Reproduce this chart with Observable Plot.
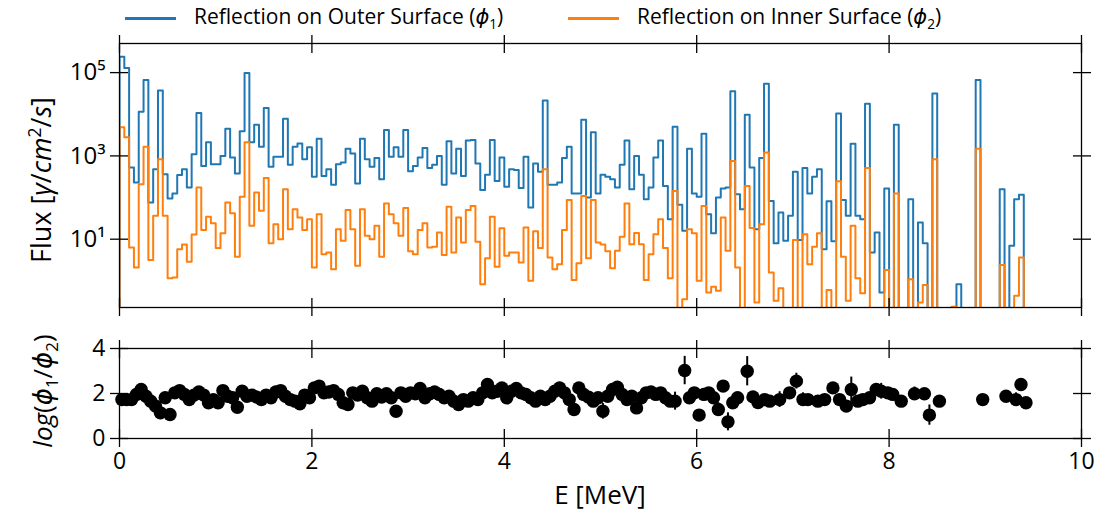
<!DOCTYPE html>
<html><head><meta charset="utf-8">
<script src="https://cdn.jsdelivr.net/npm/d3@7"></script>
<script src="https://cdn.jsdelivr.net/npm/@observablehq/plot@0.6"></script>
<style>
body{margin:0;background:#fff;}
#wrap{position:relative;width:1118px;height:515px;overflow:hidden;font-family:"Open Sans","DejaVu Sans",sans-serif;color:#000;}
#wrap svg{position:absolute;left:0;}
.lbl{position:absolute;white-space:nowrap;line-height:1;}
.lbl sup,.lbl sub{font-size:0.65em;line-height:0;}
.leg{position:absolute;font-size:21px;white-space:nowrap;line-height:1;}
.sw{position:absolute;height:3px;}
</style></head><body><div id="wrap"></div>
<script>
// ---------- data ----------
const binWidth = 0.05; // MeV
// log10 of flux per bin (null = empty bin)
const outerLog = [5.38,5.11,2.72,2.36,4.06,4.82,1.88,2.68,4.57,2.56,1.98,2.10,2.54,2.68,2.24,3.04,4.03,2.76,3.33,2.80,
2.80,3.00,3.65,2.96,2.58,3.59,4.99,3.33,3.75,3.22,4.15,2.74,2.98,2.98,3.89,2.79,3.22,3.30,2.92,3.21,
2.50,3.41,2.52,2.68,2.31,2.80,2.84,3.17,3.06,2.34,3.41,2.92,2.74,2.95,2.44,3.62,2.98,3.21,2.98,3.62,
2.63,2.76,2.96,3.19,2.71,2.79,3.00,2.31,3.35,2.58,3.17,2.52,3.37,3.38,2.82,2.18,2.55,3.38,2.40,2.96,
2.26,2.68,2.66,2.23,2.98,1.76,2.82,2.62,4.33,2.31,2.31,2.36,2.95,3.22,2.10,2.10,3.87,2.00,3.57,2.10,
2.55,2.50,2.44,2.24,2.79,3.37,2.20,3.00,2.55,1.96,2.24,2.96,3.37,2.28,1.48,3.70,1.83,1.20,3.17,2.10,
2.02,3.53,1.60,1.14,2.00,2.22,2.24,4.55,2.08,1.72,3.99,2.72,1.24,2.95,4.73,1.92,0.90,1.64,0.96,1.56,
2.62,0.98,2.71,2.10,2.50,2.68,0.76,1.91,0.95,4.02,1.94,1.56,3.29,1.56,1.48,4.25,0.68,1.16,-0.28,2.22,
null,3.75,null,null,1.96,null,1.40,0.90,null,4.50,null,null,null,null,-0.08,null,null,null,4.82,null,
null,null,null,2.20,null,0.84,1.96,2.07];
const innerLog = [3.69,3.45,0.80,0.32,2.32,3.22,0.50,1.56,2.92,1.56,0.06,0.08,0.76,0.87,0.46,1.11,2.24,1.22,1.54,1.38,
0.79,1.14,1.88,1.62,0.58,2.02,3.33,1.32,2.12,1.68,2.47,0.90,1.36,1.00,2.20,1.24,1.72,1.52,1.22,1.48,
0.32,1.60,0.64,0.68,0.28,1.24,0.96,1.70,1.24,0.36,1.72,1.08,1.00,1.32,0.58,1.86,1.60,1.38,1.08,1.75,
0.71,0.64,1.22,1.38,0.80,0.82,1.16,0.62,1.78,0.68,1.52,0.92,1.70,1.80,0.94,-0.08,0.54,1.54,0.34,1.26,
0.60,0.68,0.68,0.44,1.28,0.00,1.19,0.79,2.68,0.56,0.28,0.40,1.22,1.94,0.02,0.42,2.04,0.54,1.94,0.92,
0.87,0.71,0.30,0.72,1.06,1.86,0.88,1.15,0.88,0.02,0.64,1.12,1.48,0.79,0.06,2.16,null,-0.44,1.24,1.14,
0.00,1.80,-0.28,-0.14,-0.24,1.52,0.72,2.88,0.32,null,2.28,1.27,-0.52,1.36,3.08,0.20,-0.48,-0.18,null,null,
0.98,null,1.12,0.40,0.82,1.14,null,-0.22,null,2.39,0.58,-0.48,1.32,0.06,-0.30,2.71,null,null,null,0.26,
null,2.10,null,null,0.04,null,-0.52,-0.10,null,2.92,null,null,null,-0.62,null,null,null,null,3.17,null,
null,null,null,0.38,null,null,-0.36,0.56];

// ratio panel: energy (MeV), log(phi1/phi2), error
const ratioE = [0.025,0.075,0.125,0.175,0.225,0.275,0.325,0.375,0.425,0.475,0.525,0.575,0.625,0.675,0.725,0.775,0.825,0.875,0.925,0.975,
1.025,1.075,1.125,1.175,1.225,1.275,1.325,1.375,1.425,1.475,1.525,1.575,1.625,1.675,1.725,1.775,1.825,1.875,1.925,1.975,
2.025,2.075,2.125,2.175,2.225,2.275,2.325,2.375,2.425,2.475,2.525,2.575,2.625,2.675,2.725,2.775,2.825,2.875,2.925,2.975,
3.025,3.075,3.125,3.175,3.225,3.275,3.325,3.375,3.425,3.475,3.525,3.575,3.625,3.675,3.725,3.775,3.825,3.875,3.925,3.975,
4.025,4.075,4.125,4.175,4.225,4.275,4.325,4.375,4.425,4.475,4.525,4.575,4.625,4.675,4.725,4.775,4.825,4.875,4.925,4.975,
5.025,5.075,5.125,5.175,5.225,5.275,5.325,5.375,5.425,5.475,5.525,5.575,5.625,5.675,5.725,5.775,5.875,5.925,5.975,
6.025,6.075,6.125,6.175,6.225,6.275,6.325,6.375,6.425,6.525,
6.585,6.637,6.707,6.759,6.862,6.966,7.036,7.105,7.156,7.260,7.330,7.416,7.485,7.555,7.607,7.675,7.727,7.797,7.866,7.918,
7.987,8.038,8.126,8.264,8.367,8.419,8.523,8.973,9.215,9.319,9.371,9.423];
const ratioV = [1.73,1.73,1.73,1.96,2.18,1.88,1.66,1.44,1.14,1.81,1.07,2.03,2.13,1.96,1.73,1.93,2.07,1.93,1.59,1.73,
1.59,2.13,1.88,1.81,1.39,2.10,1.88,1.93,1.84,1.73,1.93,1.81,2.07,2.13,1.88,1.73,1.66,1.54,1.93,1.81,
2.25,2.33,2.03,2.07,2.13,1.96,1.59,1.51,2.03,1.93,2.10,1.81,1.66,1.99,1.84,1.99,1.81,1.21,2.03,1.88,
2.03,1.99,2.22,1.81,1.99,2.07,1.96,1.81,1.88,1.66,1.51,1.73,1.66,1.81,1.73,2.03,2.40,2.03,2.10,2.25,
1.81,2.10,2.22,2.03,1.96,1.81,1.66,1.88,1.73,1.88,2.10,2.25,2.03,1.73,1.29,2.25,1.96,1.84,1.66,1.81,
1.21,1.88,2.18,2.28,1.96,1.73,1.88,1.36,1.81,2.03,2.07,1.96,2.03,1.81,1.66,1.66,3.02,1.81,2.03,
1.04,1.96,2.03,1.81,1.29,2.33,0.74,1.59,1.81,2.99,
1.85,1.60,1.73,1.66,1.73,2.03,2.55,1.73,1.73,1.66,1.73,2.25,1.73,1.44,2.18,1.66,1.73,1.81,2.18,2.10,
2.03,1.96,1.66,1.99,1.99,1.04,1.66,1.73,1.88,1.73,2.40,1.59];
const ratioErr = [0.12,0.12,0.12,0.12,0.12,0.12,0.12,0.15,0.30,0.12,0.25,0.12,0.12,0.12,0.12,0.12,0.12,0.12,0.12,0.12,
0.12,0.12,0.12,0.12,0.25,0.12,0.12,0.12,0.12,0.12,0.12,0.12,0.12,0.12,0.12,0.12,0.12,0.12,0.12,0.12,
0.12,0.12,0.12,0.12,0.12,0.12,0.12,0.12,0.12,0.12,0.12,0.12,0.12,0.12,0.12,0.12,0.12,0.25,0.12,0.12,
0.12,0.12,0.12,0.12,0.12,0.12,0.12,0.12,0.12,0.12,0.12,0.12,0.12,0.12,0.12,0.12,0.15,0.12,0.12,0.12,
0.12,0.12,0.12,0.12,0.12,0.12,0.12,0.12,0.12,0.12,0.12,0.12,0.12,0.12,0.25,0.12,0.12,0.12,0.12,0.12,
0.35,0.12,0.12,0.12,0.12,0.12,0.12,0.15,0.12,0.12,0.12,0.12,0.12,0.12,0.12,0.40,0.63,0.12,0.12,
0.15,0.12,0.12,0.12,0.30,0.12,0.40,0.12,0.12,0.65,
0.12,0.12,0.12,0.12,0.35,0.12,0.35,0.30,0.12,0.12,0.12,0.12,0.12,0.12,0.55,0.12,0.12,0.12,0.12,0.35,
0.12,0.12,0.12,0.30,0.12,0.45,0.12,0.12,0.12,0.30,0.15,0.12];

const xTicks = [0,2,4,6,8,10];
const yTicksTop = [10,1000,100000];
const yTickLabelsTop = ["10¹","10³","10⁵"];
const yTicksBottom = [0,2,4];
const seriesNames = ["Reflection on Outer Surface","Reflection on Inner Surface"];
const colors = ["#1f77b4","#ff7f0e"];

// ---------- build ----------
const FLOOR = 1e-3;
function steps(logs){
  const pts = [{x:0,y:FLOOR}];
  logs.forEach((v,i)=>pts.push({x:i*binWidth, y: v==null?FLOOR:Math.pow(10,v)}));
  pts.push({x:logs.length*binWidth, y:FLOOR});
  return pts;
}
const outerPts = steps(outerLog), innerPts = steps(innerLog);
const ratio = ratioE.map((e,i)=>({e, v:ratioV[i], lo:ratioV[i]-ratioErr[i], hi:ratioV[i]+ratioErr[i]}));
const topLabel = new Map(yTicksTop.map((t,i)=>[t,yTickLabelsTop[i]]));

const font = '"Open Sans","DejaVu Sans",sans-serif';
const W=1118, ML=119, MR=37;
const TS=18, H=9;

const topPlot = Plot.plot({
  width:W, height:320, marginLeft:ML, marginRight:MR, marginTop:43, marginBottom:13,
  style:{fontFamily:font, background:"transparent", overflow:"visible"},
  x:{domain:[0,10]},
  y:{type:"log", domain:[0.229, 5.0e5]},
  marks:[
    Plot.line(outerPts,{x:"x",y:"y",curve:"step-after",stroke:colors[0],strokeWidth:2,clip:true}),
    Plot.line(innerPts,{x:"x",y:"y",curve:"step-after",stroke:colors[1],strokeWidth:2,clip:true}),
    Plot.frame({stroke:"black",strokeWidth:1.3}),
    Plot.axisX(xTicks,{anchor:"top",tickSize:TS,dy:H,tickFormat:()=>"",label:null,strokeWidth:1.3}),
    Plot.axisX(xTicks,{anchor:"bottom",tickSize:TS,dy:-H,tickFormat:()=>"",label:null,strokeWidth:1.3}),
    Plot.axisY(yTicksTop,{anchor:"left",tickSize:TS,dx:H,tickPadding:5,tickFormat:d=>topLabel.get(d),label:null,fontSize:24,strokeWidth:1.3}),
    Plot.axisY(yTicksTop,{anchor:"right",tickSize:TS,dx:-H,tickFormat:()=>"",label:null,strokeWidth:1.3})
  ]
});
topPlot.style.top="0px";

const botPlot = Plot.plot({
  width:W, height:195, marginLeft:ML, marginRight:MR, marginTop:28, marginBottom:77,
  style:{fontFamily:font, background:"transparent", overflow:"visible"},
  x:{domain:[0,10]},
  y:{domain:[0,4]},
  marks:[
    Plot.ruleX(ratio,{x:"e",y1:"lo",y2:"hi",stroke:"black",strokeWidth:2}),
    Plot.dot(ratio,{x:"e",y:"v",r:6.7,fill:"black",stroke:"none"}),
    Plot.frame({stroke:"black",strokeWidth:1.3}),
    Plot.axisX(xTicks,{anchor:"bottom",tickSize:TS,dy:-H,tickPadding:5,label:null,fontSize:23,strokeWidth:1.3}),
    Plot.axisX(xTicks,{anchor:"top",tickSize:TS,dy:H,tickFormat:()=>"",label:null,strokeWidth:1.3}),
    Plot.axisY(yTicksBottom,{anchor:"left",tickSize:TS,dx:H,tickPadding:5,label:null,fontSize:23,strokeWidth:1.3}),
    Plot.axisY(yTicksBottom,{anchor:"right",tickSize:TS,dx:-H,tickFormat:()=>"",label:null,strokeWidth:1.3})
  ]
});
botPlot.style.top="320px";

const wrap = document.getElementById("wrap");
wrap.appendChild(topPlot);
wrap.appendChild(botPlot);

// legend
function legend(i, swX, txtX, sub){
  const sw=document.createElement("div"); sw.className="sw";
  sw.style.cssText=`left:${swX}px;top:17px;width:51px;background:${colors[i]}`;
  wrap.appendChild(sw);
  const t=document.createElement("div"); t.className="leg";
  t.style.cssText=`left:${txtX}px;top:6px`;
  t.innerHTML=`${seriesNames[i]} (<i>ϕ</i><sub style="font-size:0.65em">${sub}</sub>)`;
  wrap.appendChild(t);
}
legend(0,125,194,1);
legend(1,568,637,2);

// axis titles
function addLabel(html, x, y, size, rot){
  const d=document.createElement("div"); d.className="lbl";
  d.style.cssText=`left:${x}px;top:${y}px;font-size:${size}px;transform:translate(-50%,-50%)${rot?" rotate(-90deg)":""}`;
  d.innerHTML=html; wrap.appendChild(d);
}
addLabel('Flux [<i>γ</i>/<i>cm</i><sup>2</sup>/<i>s</i>]', 40, 180, 27, true);
addLabel('<i>log</i>(<i>ϕ</i><sub>1</sub>/<i>ϕ</i><sub>2</sub>)', 42, 391, 26, true);
addLabel('E [MeV]', 600, 494, 26, false);
</script></body></html>
